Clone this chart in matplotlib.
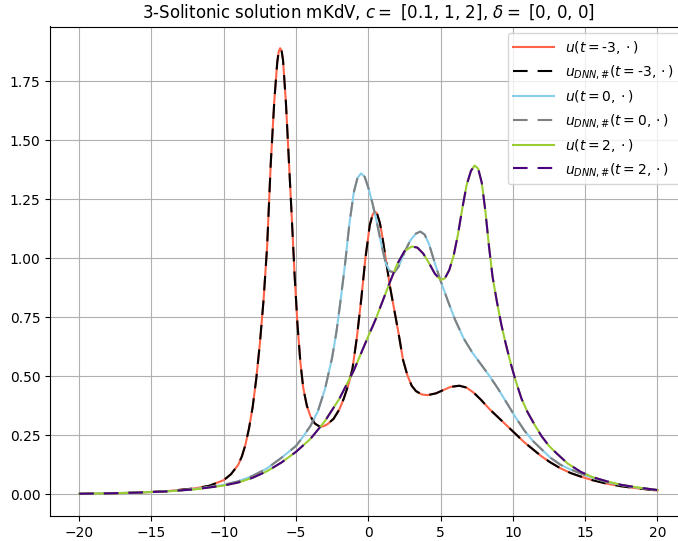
import matplotlib

matplotlib.use("Agg")
import matplotlib.pyplot as plt

# values (exact and DNN curves coincide visually)
x_tm3 = [-20, -18, -16, -14, -12, -11, -10, -9.5, -9, -8.75, -8.5, -8.25, -8,
         -7.75, -7.5, -7.25, -7, -6.75, -6.5, -6.3, -6.2, -6.1, -6.0, -5.9, -5.7,
         -5.5, -5.3, -5.1, -4.9, -4.7, -4.5, -4.25, -4, -3.7, -3.4, -3.1, -2.8,
         -2.4, -2.0, -1.7, -1.4, -1.1, -0.8, -0.5, -0.2, 0.1, 0.3, 0.45, 0.6, 0.8,
         0.95, 1.2, 1.5, 1.8, 2.1, 2.4, 2.7, 3.0, 3.3, 3.7, 4.1, 4.7, 5.2, 5.7, 6.3,
         6.8, 7.3, 7.8, 8.4, 9.0, 9.6, 10.2, 10.8, 11.4, 12, 12.6, 13.3, 14, 14.7,
         15.5, 16.5, 17.5, 18.5, 20]
u_tm3 = [0.002, 0.004, 0.007, 0.013, 0.025, 0.036, 0.06, 0.085, 0.125, 0.16,
         0.21, 0.28, 0.37, 0.49, 0.64, 0.82, 1.05, 1.40, 1.67, 1.83, 1.875, 1.89,
         1.88, 1.84, 1.66, 1.42, 1.18, 0.93, 0.72, 0.56, 0.45, 0.375, 0.33, 0.30,
         0.288, 0.288, 0.298, 0.32, 0.36, 0.405, 0.46, 0.53, 0.66, 0.82, 1.0, 1.14,
         1.185, 1.198, 1.19, 1.15, 1.10, 1.0, 0.88, 0.78, 0.68, 0.57, 0.505, 0.46,
         0.437, 0.423, 0.42, 0.428, 0.442, 0.455, 0.46, 0.452, 0.43, 0.40, 0.36,
         0.325, 0.29, 0.255, 0.22, 0.19, 0.16, 0.135, 0.11, 0.09, 0.075, 0.06,
         0.045, 0.034, 0.026, 0.016]

x_t0 = [-20, -18, -16, -14, -12, -10, -9, -8, -7, -6, -5, -4.5, -4, -3.5, -3,
        -2.5, -2.2, -1.9, -1.6, -1.3, -1.0, -0.75, -0.5, -0.25, 0, 0.3, 0.6, 0.9,
        1.2, 1.5, 1.8, 2.1, 2.5, 2.9, 3.3, 3.6, 3.9, 4.2, 4.6, 5.0, 5.5, 6.0, 6.6,
        7.2, 7.8, 8.4, 9.0, 9.6, 10.2, 10.8, 11.4, 12, 12.6, 13.3, 14, 14.7, 15.5,
        16.5, 17.5, 18.5, 20]
u_t0 = [0.002, 0.004, 0.007, 0.012, 0.022, 0.04, 0.055, 0.078, 0.11, 0.155,
        0.205, 0.245, 0.29, 0.35, 0.445, 0.58, 0.69, 0.83, 0.98, 1.15, 1.28, 1.34,
        1.36, 1.345, 1.3, 1.23, 1.15, 1.06, 0.98, 0.945, 0.94, 0.965, 1.025,
        1.075, 1.105, 1.113, 1.10, 1.06, 0.98, 0.905, 0.82, 0.74, 0.66, 0.60,
        0.55, 0.50, 0.445, 0.385, 0.325, 0.27, 0.225, 0.19, 0.155, 0.125, 0.105,
        0.088, 0.07, 0.052, 0.039, 0.029, 0.018]

x_t2 = [-20, -18, -16, -14, -12, -10, -9, -8, -7, -6, -5, -4, -3, -2, -1, 0, 0.5,
        1.0, 1.5, 2.0, 2.5, 3.0, 3.4, 3.8, 4.2, 4.6, 5.0, 5.3, 5.6, 5.9, 6.2, 6.5,
        6.8, 7.1, 7.35, 7.6, 7.85, 8.1, 8.35, 8.6, 8.9, 9.2, 9.5, 9.85, 10.2, 10.6,
        11.0, 11.5, 12, 12.5, 13, 13.8, 14.7, 15.5, 16.5, 17.5, 18.5, 20]
u_t2 = [0.002, 0.004, 0.007, 0.012, 0.021, 0.037, 0.05, 0.07, 0.098, 0.135,
        0.18, 0.235, 0.31, 0.405, 0.525, 0.67, 0.74, 0.82, 0.9, 0.975, 1.03, 1.05,
        1.045, 1.02, 0.98, 0.935, 0.908, 0.915, 0.95, 1.01, 1.10, 1.21, 1.31,
        1.37, 1.393, 1.38, 1.32, 1.20, 1.05, 0.92, 0.815, 0.72, 0.64, 0.555, 0.48,
        0.405, 0.35, 0.295, 0.245, 0.205, 0.175, 0.13, 0.095, 0.073, 0.055, 0.04,
        0.03, 0.018]

times = ["-3", "0", "2"]
series = [(x_tm3, u_tm3), (x_t0, u_t0), (x_t2, u_t2)]
solid_colors = ["tomato", "skyblue", "yellowgreen"]
dash_colors = ["black", "grey", "indigo"]

fig = plt.figure(figsize=(6.78, 5.41), dpi=100)
ax = fig.add_axes([50.3 / 678, 25 / 541, 636 / 678, 489.5 / 541])

for t, (xs, us), cs, cd in zip(times, series, solid_colors, dash_colors):
    ax.plot(xs, us, color=cs, lw=1.5, label=r"$u(t=$" + t + r"$,\cdot)$")
    ax.plot(xs, us, color=cd, lw=1.5, ls=(0, (7, 4.8)),
            label=r"$u_{DNN,\#}(t=$" + t + r"$,\cdot)$")

ax.set_xlim(-22, 22)
ax.set_ylim(-0.092, 1.982)
ax.set_xticks(range(-20, 21, 5))
ax.set_yticks([0, 0.25, 0.5, 0.75, 1.0, 1.25, 1.5, 1.75])
ax.spines["right"].set_visible(False)
ax.grid(True)
ax.set_title(r"3-Solitonic solution mKdV, $c=$ [0.1, 1, 2], $\delta=$ [0, 0, 0]")
ax.legend(loc="upper right", handlelength=2.9)

fig.savefig("out.png", dpi=100)
